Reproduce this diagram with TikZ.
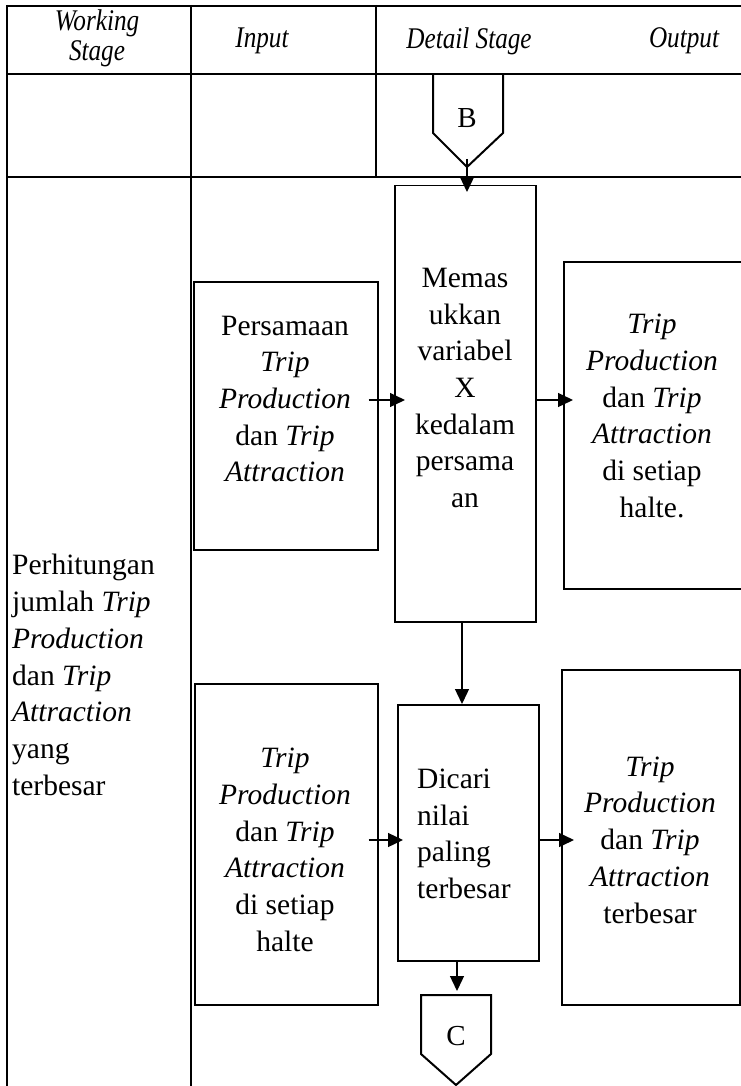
\documentclass[tikz,border=0pt]{standalone}
\usepackage{fontspec}
\setmainfont{Liberation Serif}
\newfontfamily\hdrfont[FakeStretch=0.84]{Liberation Serif}
\usetikzlibrary{arrows.meta,calc}
\begin{document}
\begin{tikzpicture}[x=1pt,y=-1pt,
  tbl/.style={line width=2.2pt},
  boxnode/.style={draw,line width=1.5pt,rectangle,inner sep=0pt,anchor=north west},
  txt/.style={font=\fontsize{29.5}{36.7}\selectfont,align=center,inner sep=0pt},
  hdr/.style={font=\hdrfont\fontsize{30}{30}\selectfont\itshape,align=center,inner sep=0pt},
  pent/.style={line width=2pt,line join=miter},
  arr/.style={line width=1.3pt,-{Triangle[width=14pt,length=15pt]}}]
\useasboundingbox (0,0) rectangle (740,1086);
\fill[white] (0,0) rectangle (740,1086);
% table
\draw[tbl] (6,6) -- (745,6);
\draw[tbl] (6,74) -- (745,74);
\draw[tbl] (6,177) -- (745,177);
\draw[tbl] (7,5) -- (7,1090);
\draw[tbl] (191,5) -- (191,1090);
\draw[tbl] (376,5) -- (376,177);
% header
\node[hdr] (hws) at (97,38) {Working\\Stage};
\node[hdr] (hin) at (262,41) {Input};
\node[hdr] (hds) at (469,41) {Detail Stage};
\node[hdr] (hout) at (684,41) {Output};
% B connector
\draw[pent] (433,74) -- (433,133) -- (467,167) -- (503,133) -- (503,74);
\node[txt,font=\fontsize{29}{30}\selectfont] (B) at (467,118) {B};
\coordinate (bstart) at (467,159);
% boxes
\node[boxnode,minimum width=184pt,minimum height=268pt] (persbox) at (193,281) {};
\node[boxnode,minimum width=141pt,minimum height=436pt] (mem) at (394,185) {};
\node[boxnode,minimum width=190pt,minimum height=327pt] (out1) at (563,261) {};
\node[boxnode,minimum width=183pt,minimum height=321pt] (in2) at (194,683) {};
\node[boxnode,minimum width=141pt,minimum height=256pt] (dic) at (397,704) {};
\node[boxnode,minimum width=178pt,minimum height=335pt] (out2) at (561,669) {};
% texts
\node[txt] (perstext) at (285,399) {Persamaan\\\textit{Trip}\\\textit{Production}\\dan \textit{Trip}\\\textit{Attraction}};
\node[txt] (memtext) at (465,388) {Memas\\ukkan\\variabel\\X\\kedalam\\persama\\an};
\node[txt] (out1text) at (652,416) {\textit{Trip}\\\textit{Production}\\dan \textit{Trip}\\\textit{Attraction}\\di setiap\\halte.};
\node[txt] (in2text) at (285,850) {\textit{Trip}\\\textit{Production}\\dan \textit{Trip}\\\textit{Attraction}\\di setiap\\halte};
\node[txt,align=left,anchor=west] (dictext) at (417,834) {Dicari\\nilai\\paling\\terbesar};
\node[txt] (out2text) at (650,840) {\textit{Trip}\\\textit{Production}\\dan \textit{Trip}\\\textit{Attraction}\\terbesar};
\node[txt,align=left,anchor=west] (ltext) at (12,675) {Perhitungan\\jumlah \textit{Trip}\\\textit{Production}\\dan \textit{Trip}\\\textit{Attraction}\\yang\\terbesar};
% C connector
\draw[pent] (421,995) -- (421,1054) -- (456,1085) -- (491,1054) -- (491,995) -- cycle;
\node[txt,font=\fontsize{29}{30}\selectfont] (C) at (456,1036) {C};
\coordinate (ctop) at (457,995);
% connectors
\coordinate (r1) at (0,400);
\coordinate (r2) at (0,840);
\coordinate (c2) at (462,0);
\coordinate (c3) at (457,0);
\draw[arr] (bstart) -- ($(bstart|-mem.north)+(0,7)$);
\draw[arr] ($(persbox.east|-r1)+(-10,0)$) -- ($(mem.west|-r1)+(11,0)$);
\draw[arr] (mem.east|-r1) -- ($(out1.west|-r1)+(10,0)$);
\draw[arr] (mem.south-|c2) -- (dic.north-|c2);
\draw[arr] ($(in2.east|-r2)+(-10,0)$) -- ($(dic.west|-r2)+(6,0)$);
\draw[arr] (dic.east|-r2) -- ($(out2.west|-r2)+(13,0)$);
\draw[arr] (dic.south-|c3) -- ($(ctop)+(0,-4)$);
\end{tikzpicture}
\end{document}
